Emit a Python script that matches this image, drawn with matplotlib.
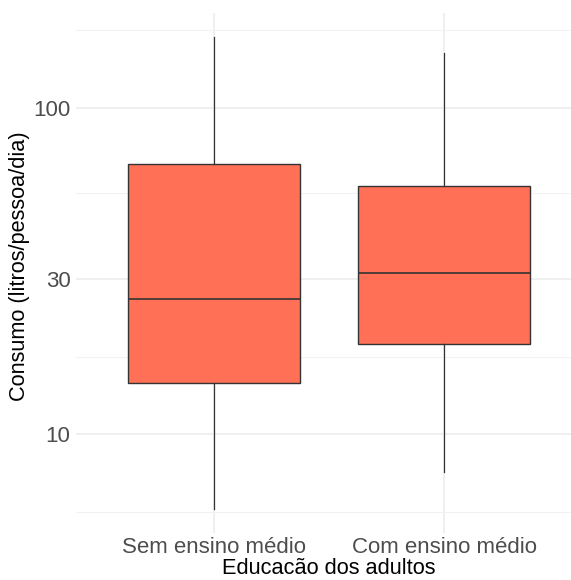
import numpy as np
import matplotlib
matplotlib.use('Agg')
import matplotlib.pyplot as plt
from matplotlib.ticker import FixedLocator, NullFormatter

# boxplot summaries, litros/pessoa/dia
grupos = ['Sem ensino médio', 'Com ensino médio']
minimo = [5.9, 7.7]
q1 = [14.4, 18.9]
mediana = [25.9, 31.3]
q3 = [67.1, 57.5]
maximo = [165.0, 147.0]

y_breaks = [10, 30, 100]

plt.rcParams['font.family'] = ['Liberation Sans', 'DejaVu Sans']

fig = plt.figure(figsize=(5.71, 5.80), dpi=100)
ax = fig.add_axes([76 / 571, 47 / 580, 506 / 571, 520 / 580])

stats = []
for i, nome in enumerate(grupos):
    stats.append({
        'label': nome,
        'whislo': minimo[i],
        'q1': q1[i],
        'med': mediana[i],
        'q3': q3[i],
        'whishi': maximo[i],
        'fliers': [],
    })

pos = np.arange(1, len(grupos) + 1)
ax.bxp(stats, positions=pos, widths=0.75, patch_artist=True, showcaps=False,
       showfliers=False,
       boxprops=dict(facecolor='#FF7056', edgecolor='#333333', linewidth=1.0),
       medianprops=dict(color='#333333', linewidth=1.2),
       whiskerprops=dict(color='#333333', linewidth=0.9),
       zorder=3)

ax.set_yscale('log')

# limits with 5% expansion in log space
lo = np.log10(min(minimo))
hi = np.log10(max(maximo))
pad = 0.05 * (hi - lo)
ax.set_ylim(10 ** (lo - pad), 10 ** (hi + pad))
ax.set_xlim(0.4, len(grupos) + 0.6)

ax.yaxis.set_major_locator(FixedLocator(y_breaks))
ax.set_yticklabels([str(b) for b in y_breaks])
# minor grid halfway between breaks (log space), extended past the ends
lb = np.log10(y_breaks)
step = lb[1] - lb[0]
ext = np.concatenate([[lb[0] - step], lb, [lb[-1] + step]])
minors = 10 ** ((ext[:-1] + ext[1:]) / 2)
ax.yaxis.set_minor_locator(FixedLocator(minors))
ax.yaxis.set_minor_formatter(NullFormatter())

ax.set_xticks(pos)
ax.set_xticklabels(grupos)

ax.grid(True, which='major', color='#EBEBEB', linewidth=1.1, zorder=0)
ax.grid(True, which='minor', axis='y', color='#F2F2F2', linewidth=0.8, zorder=0)
ax.set_axisbelow(True)

for s in ax.spines.values():
    s.set_visible(False)
ax.tick_params(which='both', length=0)
ax.tick_params(axis='y', labelsize=16, labelcolor='#4D4D4D', pad=4)
ax.tick_params(axis='x', labelsize=16, labelcolor='#4D4D4D', pad=3)

ax.set_xlabel('Educacão dos adultos', fontsize=15.7, color='black', labelpad=0)
ax.set_ylabel('Consumo (litros/pessoa/dia)', fontsize=15.7, color='black')
ax.yaxis.set_label_coords(-0.091, 0.513)

fig.savefig('out.png', dpi=100)
